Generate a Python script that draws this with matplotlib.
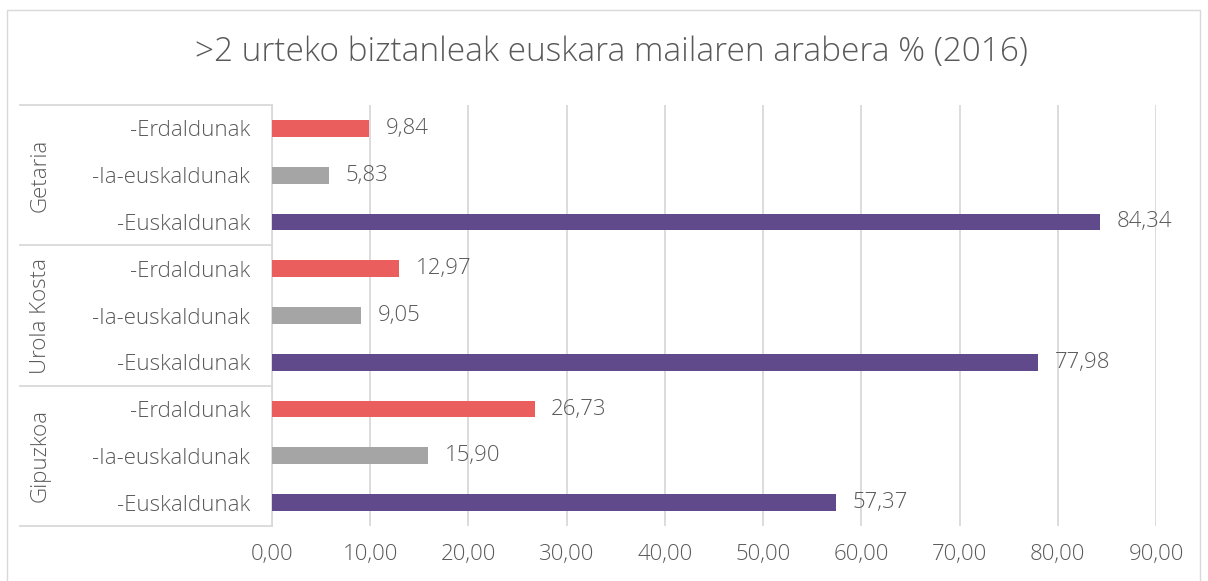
import matplotlib.pyplot as plt
from matplotlib.patches import Rectangle
from matplotlib.transforms import blended_transform_factory

# data, top to bottom
groups = ["Getaria", "Urola Kosta", "Gipuzkoa"]
levels = ["-Erdaldunak", "-Ia-euskaldunak", "-Euskaldunak"]
getaria = [9.84, 5.83, 84.34]
urola_kosta = [12.97, 9.05, 77.98]
gipuzkoa = [26.73, 15.90, 57.37]
colors = ["#EB5E5E", "#A5A5A5", "#604A8B"]
xticks = [0, 10, 20, 30, 40, 50, 60, 70, 80, 90]

W, H = 1208, 581
txt = "#595959"
plt.rcParams['font.family'] = ['Open Sans', 'DejaVu Sans']
plt.rcParams['font.weight'] = 'light'

fig = plt.figure(figsize=(W / 100, H / 100), dpi=100)
fig.patches.append(Rectangle((7 / W, -0.01), (1200 - 7) / W, (H - 10) / H + 0.01,
                             transform=fig.transFigure, fill=False,
                             edgecolor="#D9D9D9", lw=1))
fig.text(611 / W, 1 - 52 / H, ">2 urteko biztanleak euskara mailaren arabera % (2016)",
         ha="center", va="center", fontsize=24, color=txt, fontweight='light')

ax = fig.add_axes([272 / W, (H - 526) / H, (1156 - 272) / W, (526 - 105) / H])

values = []
labels = []
bar_colors = []
for vals in [getaria, urola_kosta, gipuzkoa]:
    for lev, v, c in zip(levels, vals, colors):
        values.append(v)
        labels.append(lev)
        bar_colors.append(c)
ypos = list(range(len(values)))

ax.barh(ypos, values, height=0.36, color=bar_colors, zorder=3)
for y, v in zip(ypos, values):
    ax.text(v + 1.7, y, f"{v:.2f}".replace(".", ","), va="center", ha="left",
            fontsize=16, color=txt)

ax.set_xlim(0, 90)
ax.set_ylim(len(values) - 0.5, -0.5)
ax.set_xticks(xticks)
ax.set_xticklabels([f"{t:.2f}".replace(".", ",") for t in xticks])
ax.set_yticks(ypos)
ax.set_yticklabels(labels)
ax.tick_params(axis="x", length=0, pad=13, labelsize=16, labelcolor=txt)
ax.tick_params(axis="y", length=0, pad=16, labelsize=16, labelcolor=txt)
ax.grid(axis="x", color="#D9D9D9", lw=1.3, zorder=0)
for s in ["top", "right", "bottom"]:
    ax.spines[s].set_visible(False)
ax.spines["left"].set_color("#D9D9D9")
ax.spines["left"].set_linewidth(1.3)

# group box
tr = blended_transform_factory(ax.transAxes, ax.transData)
x0 = (20 - 272) / (1156 - 272)
for b in [-0.5, 2.5, 5.5, 8.5]:
    ax.plot([x0, 0], [b, b], transform=tr, color="#D9D9D9", lw=1.3, clip_on=False)
for i, g in enumerate(groups):
    ax.text((40 - 272) / (1156 - 272), i * 3 + 1, g, transform=tr, rotation=90,
            ha="center", va="center", fontsize=16, color=txt)

fig.savefig("out.png", dpi=100)
